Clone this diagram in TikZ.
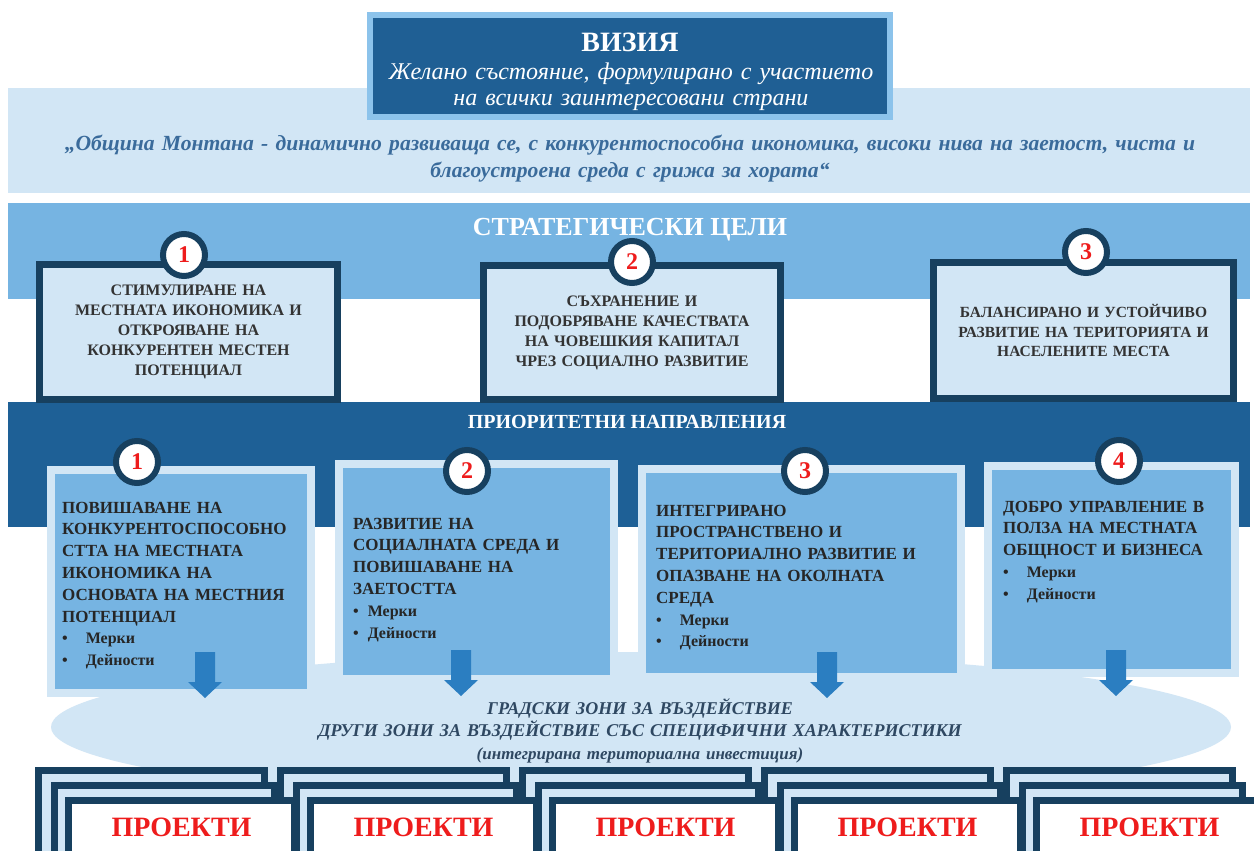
\documentclass[tikz,border=0pt]{standalone}
\usepackage{fontspec}
\setmainfont{Liberation Serif}
\usetikzlibrary{positioning,shapes.geometric}

\definecolor{navy}{HTML}{17405F}
\definecolor{visionblue}{HTML}{1F5F94}
\definecolor{frameblue}{HTML}{8CC3EB}
\definecolor{paleblue}{HTML}{D2E6F5}
\definecolor{midblue}{HTML}{76B4E2}
\definecolor{deepblue}{HTML}{1E6096}
\definecolor{arrowblue}{HTML}{2B7EC1}
\definecolor{quoteblue}{HTML}{3A6B9B}
\definecolor{zoneslate}{HTML}{2F4862}
\definecolor{textgray}{HTML}{333333}
\definecolor{numred}{HTML}{EE1C1C}

\tikzset{
  band/.style={inner sep=0pt, outer sep=0pt, minimum width=1242pt, anchor=north west},
  visionbox/.style={draw=frameblue, line width=6pt, fill=visionblue, minimum width=520pt, minimum height=102pt},
  goalbox/.style={draw=navy, line width=7pt, fill=paleblue, align=center, text width=280pt, text=textgray, font=\bfseries\fontsize{16}{20}\selectfont},
  priobox/.style={draw=paleblue, line width=8pt, fill=midblue},
  priotext/.style={anchor=base west, inner sep=0pt, align=left, text=black!85, font=\bfseries\fontsize{17}{21.8}\selectfont},
  numcircle/.style={circle, draw=navy, line width=6pt, fill=white, minimum size=42pt, inner sep=0pt, text=numred, font=\bfseries\fontsize{24}{24}\selectfont},
  bandtitle/.style={anchor=base, inner sep=0pt, text=white, font=\bfseries\fontsize{26}{26}\selectfont},
  projback/.style={draw=navy, line width=7pt, fill=paleblue, anchor=north west, inner sep=0pt, minimum height=100pt},
  projfront/.style={projback, fill=white},
  projtext/.style={inner sep=0pt, text=numred, font=\bfseries\fontsize{28}{28}\selectfont},
  blockarrow/.pic={\fill[arrowblue] (-10,0) -- (10,0) -- (10,30) -- (17,30) -- (0,46) -- (-17,30) -- (-10,30) -- cycle;}
}

\begin{document}
\begin{tikzpicture}[x=1pt, y=-1pt]
\useasboundingbox[fill=white] (0,0) rectangle (1254,851);
\clip (0,0) rectangle (1254,851);

% vision
\node[band, fill=paleblue, minimum height=105pt] (visionband) at (8,88) {};
\node[visionbox] (vision) at (630,66) {};
\node[anchor=base, inner sep=0pt, text=white, font=\bfseries\fontsize{28}{28}\selectfont] (vtitle) at (630,52) {ВИЗИЯ};
\node[anchor=base, inner sep=0pt, text=white, text width=510pt, align=center, font=\itshape\fontsize{24}{26}\selectfont] (vsub) at (631,80) {Желано състояние, формулирано с участието\\на всички заинтересовани страни};
\node[anchor=base, inner sep=0pt, text=quoteblue, text width=1240pt, align=center, font=\bfseries\itshape\fontsize{21.6}{27}\selectfont] (quote) at (630,150) {„Община Монтана - динамично развиваща се, с конкурентоспособна икономика, високи нива на заетост, чиста и\\благоустроена среда с грижа за хората“};

% strategic goals
\node[band, fill=midblue, minimum height=96pt] (goalband) at (8,203) {};
\node[bandtitle] (goaltitle) at (630,235) {СТРАТЕГИЧЕСКИ ЦЕЛИ};
\node[band, fill=deepblue, minimum height=125pt] (prioband) at (8,402) {};
\node[goalbox, minimum width=298pt, minimum height=135pt] (goal1) at (188.5,332) {СТИМУЛИРАНЕ НА\\МЕСТНАТА ИКОНОМИКА И\\ОТКРОЯВАНЕ НА\\КОНКУРЕНТЕН МЕСТЕН\\ПОТЕНЦИАЛ};
\node[goalbox, minimum width=297pt, minimum height=134pt] (goal2) at (632,332.5) {СЪХРАНЕНИЕ И\\ПОДОБРЯВАНЕ КАЧЕСТВАТА\\НА ЧОВЕШКИЯ КАПИТАЛ\\ЧРЕЗ СОЦИАЛНО РАЗВИТИЕ};
\node[goalbox, minimum width=300pt, minimum height=136pt, font=\bfseries\fontsize{15.5}{19.5}\selectfont] (goal3) at (1083.5,330.5) {БАЛАНСИРАНО И УСТОЙЧИВО\\РАЗВИТИЕ НА ТЕРИТОРИЯТА И\\НАСЕЛЕНИТЕ МЕСТА};
\node[numcircle] (gc1) at (184,255) {1};
\node[numcircle] (gc2) at (632,262) {2};
\node[numcircle] (gc3) at (1086,252) {3};

% priority directions
\node[bandtitle, font=\bfseries\fontsize{20}{20}\selectfont] (priotitle) at (627,428) {ПРИОРИТЕТНИ НАПРАВЛЕНИЯ};
\node[ellipse, fill=paleblue, minimum width=1180pt, minimum height=150pt, inner sep=0pt] (zones) at (641,727) {};
\node[priobox, minimum width=260pt, minimum height=223pt] (prio1) at (180.5,581) {};
\node[priobox, minimum width=275pt, minimum height=215pt] (prio2) at (476.5,571.5) {};
\node[priobox, minimum width=319pt, minimum height=208pt] (prio3) at (801.5,573) {};
\node[priobox, minimum width=247pt, minimum height=207pt] (prio4) at (1111.5,569.5) {};
\node[numcircle] (pc1) at (137,462) {1};
\node[numcircle] (pc2) at (467,471) {2};
\node[numcircle] (pc3) at (805,471) {3};
\node[numcircle] (pc4) at (1119,461) {4};
\node[priotext, text width=240pt] (ptext1) at (62,513) {ПОВИШАВАНЕ НА\\КОНКУРЕНТОСПОСОБНО\\СТТА НА МЕСТНАТА\\ИКОНОМИКА НА\\ОСНОВАТА НА МЕСТНИЯ\\ПОТЕНЦИАЛ\\{\fontsize{16}{21.8}\selectfont\textbullet\hspace{18pt}Мерки}\\{\fontsize{16}{21.8}\selectfont\textbullet\hspace{18pt}Дейности}};
\node[priotext, text width=255pt] (ptext2) at (353,529) {РАЗВИТИЕ НА\\СОЦИАЛНАТА СРЕДА И\\ПОВИШАВАНЕ НА\\ЗАЕТОСТТА\\{\fontsize{16}{21.8}\selectfont\textbullet\hspace{9pt}Мерки}\\{\fontsize{16}{21.8}\selectfont\textbullet\hspace{9pt}Дейности}};
\node[priotext, text width=295pt] (ptext3) at (656,516) {ИНТЕГРИРАНО\\ПРОСТРАНСТВЕНО И\\ТЕРИТОРИАЛНО РАЗВИТИЕ И\\ОПАЗВАНЕ НА ОКОЛНАТА\\СРЕДА\\{\fontsize{16}{21.8}\selectfont\textbullet\hspace{18pt}Мерки}\\{\fontsize{16}{21.8}\selectfont\textbullet\hspace{18pt}Дейности}};
\node[priotext, text width=225pt] (ptext4) at (1003,512) {ДОБРО УПРАВЛЕНИЕ В\\ПОЛЗА НА МЕСТНАТА\\ОБЩНОСТ И БИЗНЕСА\\{\fontsize{16}{21.8}\selectfont\textbullet\hspace{18pt}Мерки}\\{\fontsize{16}{21.8}\selectfont\textbullet\hspace{18pt}Дейности}};
\foreach \ax/\ay in {205/652, 461/650, 827/652, 1116/650}
  \pic at (\ax,\ay) {blockarrow};
\node[anchor=base, inner sep=0pt, text width=800pt, align=center, text=zoneslate, font=\bfseries\itshape\fontsize{18}{22.5}\selectfont] (zonetext) at (640,714) {ГРАДСКИ ЗОНИ ЗА ВЪЗДЕЙСТВИЕ\\ДРУГИ ЗОНИ ЗА ВЪЗДЕЙСТВИЕ СЪС СПЕЦИФИЧНИ ХАРАКТЕРИСТИКИ\\{\fontsize{17}{20}\selectfont(интегрирана териториална инвестиция)}};

% projects
\foreach \i in {0,...,4}
  \node[projback, minimum width=226pt] (pback\i) at ({35+242*\i},767) {};
\foreach \i in {0,...,4}
  \node[projback, minimum width=220pt] (pmid\i) at ({51+242*\i},782) {};
\foreach \i in {0,...,4} {
  \node[projfront, minimum width=226pt] (pfront\i) at ({65+242*\i},797) {};
  \node[projtext, below=21pt of pfront\i.north] (pname\i) {ПРОЕКТИ};
}
\end{tikzpicture}
\end{document}
